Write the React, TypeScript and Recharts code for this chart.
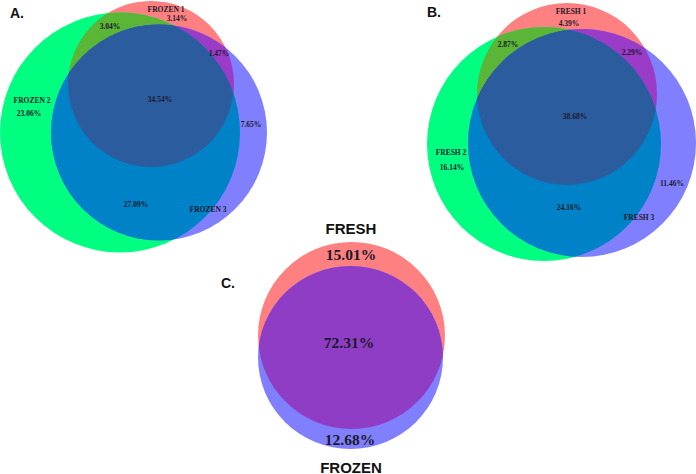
import React from "react";
import { ScatterChart, Scatter, XAxis, YAxis } from "recharts";

const WIDTH = 696;
const HEIGHT = 474;

// circle geometry in plot units (x to the right, y downwards)
const setsA = [
  { id: "a1", name: "FROZEN 1", x: 151, y: 84, rx: 83, ry: 83 },
  { id: "a2", name: "FROZEN 2", x: 120, y: 132.5, rx: 120, ry: 120 },
  { id: "a3", name: "FROZEN 3", x: 159, y: 132.5, rx: 108, ry: 108 },
];
const setsB = [
  { id: "b1", name: "FRESH 1", x: 567, y: 94, rx: 90, ry: 91 },
  { id: "b2", name: "FRESH 2", x: 544, y: 144, rx: 117, ry: 117 },
  { id: "b3", name: "FRESH 3", x: 582, y: 143, rx: 114, ry: 114 },
];
const setsC = [
  { id: "c1", name: "FRESH", x: 351.5, y: 335.5, rx: 93.5, ry: 93.5 },
  { id: "c2", name: "FROZEN", x: 350.5, y: 357.5, rx: 92.5, ry: 91.5 },
];

// region keys: which sets a region belongs to
const regions3 = ["100", "010", "001", "110", "101", "011", "111"];
const regions2 = ["10", "01", "11"];

const valuesA = [3.14, 23.06, 7.65, 3.04, 1.47, 27.09, 34.54];
const valuesB = [4.39, 16.14, 11.46, 2.87, 2.29, 24.16, 38.68];
const valuesC = [15.01, 12.68, 72.31];

// where each value label sits
const spotsA = [[177, 18], [29, 113], [251, 124], [110, 26], [219, 53], [136, 204], [160, 99]];
const spotsB = [[569, 23], [452, 167], [672, 183], [508, 44], [632, 52], [569, 207], [575, 116]];
const spotsC = [[351, 254], [350, 439], [349, 342]];

const nameSpotsA = [[166, 9], [32, 100], [208, 209]];
const nameSpotsB = [[571, 11], [451, 152], [639, 217]];
const nameSpotsC = [[351, 228], [351, 467]];

const panelTitles = ["A.", "B.", "C."];
const titleSpots = [[10, 13], [427, 12], [221, 283]];

const colors3: Record<string, string> = {
  "100": "#ff8080",
  "010": "#00ff80",
  "001": "#8080ff",
  "110": "#5bb536",
  "101": "#9a3cc8",
  "011": "#0082c8",
  "111": "#2b5d9e",
};
const colors2: Record<string, string> = {
  "10": "#ff8080",
  "01": "#8080ff",
  "11": "#8f3dc4",
};

type Circle = { id: string; name: string; x: number; y: number; rx: number; ry: number };

// every circle is drawn once on its own, then again clipped by the others it overlaps
function buildLayers(sets: Circle[], keys: string[], colors: Record<string, string>) {
  const out: any[] = [];
  keys.forEach((key) => {
    const members = key.split("").map((k, i) => (k === "1" ? i : -1)).filter((i) => i >= 0);
    const top = members[members.length - 1];
    const base = sets[top];
    out.push({
      ...base,
      key,
      level: members.length,
      clips: members.slice(0, -1).map((i) => sets[i].id),
      fill: colors[key],
    });
  });
  return out;
}

const layersA = buildLayers(setsA, regions3, colors3);
const layersB = buildLayers(setsB, regions3, colors3);
const layersC = buildLayers(setsC, regions2, colors2);
const allLayers = [...layersA, ...layersB, ...layersC];
const level1 = allLayers.filter((d) => d.level === 1);
const level2 = allLayers.filter((d) => d.level === 2);
const level3 = allLayers.filter((d) => d.level === 3);

const fmt = (v: number) => v.toFixed(2) + "%";

const smallLabels = [
  ...valuesA.map((v, i) => ({ x: spotsA[i][0], y: spotsA[i][1], text: fmt(v), kind: "small" })),
  ...valuesB.map((v, i) => ({ x: spotsB[i][0], y: spotsB[i][1], text: fmt(v), kind: "small" })),
  ...setsA.map((s, i) => ({ x: nameSpotsA[i][0], y: nameSpotsA[i][1], text: s.name, kind: "small" })),
  ...setsB.map((s, i) => ({ x: nameSpotsB[i][0], y: nameSpotsB[i][1], text: s.name, kind: "small" })),
  ...valuesC.map((v, i) => ({ x: spotsC[i][0], y: spotsC[i][1], text: fmt(v), kind: "big" })),
  ...setsC.map((s, i) => ({ x: nameSpotsC[i][0], y: nameSpotsC[i][1], text: s.name, kind: "name" })),
  ...panelTitles.map((t, i) => ({ x: titleSpots[i][0], y: titleSpots[i][1], text: t, kind: "title" })),
];

const unit = WIDTH / WIDTH;

const CircleShape = (props: any) => {
  const { cx, cy, payload } = props;
  const rx = payload.rx * unit;
  const ry = payload.ry * unit;
  let node: React.ReactNode = <ellipse cx={cx} cy={cy} rx={rx} ry={ry} fill={payload.fill} />;
  payload.clips
    .slice()
    .reverse()
    .forEach((c: string) => {
      node = <g clipPath={`url(#clip-${c})`}>{node}</g>;
    });
  return (
    <g>
      {payload.level === 1 && (
        <clipPath id={`clip-${payload.id}`}>
          <ellipse cx={cx} cy={cy} rx={rx} ry={ry} />
        </clipPath>
      )}
      {node}
    </g>
  );
};

const textStyles: Record<string, any> = {
  small: { fontFamily: "'Liberation Serif', serif", fontWeight: 700, fontSize: 7.5, fill: "#1a1a2a" },
  big: { fontFamily: "'Liberation Serif', serif", fontWeight: 700, fontSize: 15.5, fill: "#1a1a2a" },
  name: { fontFamily: "'Liberation Sans', Arial, sans-serif", fontWeight: 700, fontSize: 15, fill: "#111" },
  title: { fontFamily: "'Liberation Sans', Arial, sans-serif", fontWeight: 700, fontSize: 14, fill: "#111" },
};

const LabelShape = (props: any) => {
  const { cx, cy, payload } = props;
  const st = textStyles[payload.kind];
  return (
    <text
      x={cx}
      y={cy}
      textAnchor={payload.kind === "title" ? "start" : "middle"}
      dominantBaseline="central"
      {...st}
    >
      {payload.text}
    </text>
  );
};

export default function App() {
  return (
    <div style={{ position: "absolute", left: 0, top: 0, width: WIDTH, height: HEIGHT, background: "#fff" }}>
      <ScatterChart width={WIDTH} height={HEIGHT} margin={{ top: 0, right: 0, bottom: 0, left: 0 }}>
        <XAxis type="number" dataKey="x" domain={[0, WIDTH]} hide />
        <YAxis type="number" dataKey="y" domain={[0, HEIGHT]} reversed hide />
        <Scatter data={level1} shape={CircleShape} isAnimationActive={false} />
        <Scatter data={level2} shape={CircleShape} isAnimationActive={false} />
        <Scatter data={level3} shape={CircleShape} isAnimationActive={false} />
        <Scatter data={smallLabels} shape={LabelShape} isAnimationActive={false} />
      </ScatterChart>
    </div>
  );
}
